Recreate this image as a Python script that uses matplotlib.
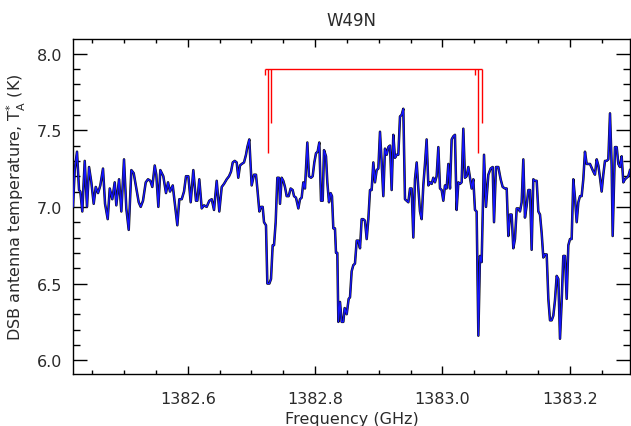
import matplotlib
matplotlib.use("Agg")
import matplotlib.pyplot as plt
from matplotlib.ticker import MultipleLocator

plt.rcParams['font.family'] = ['DejaVu Sans']
plt.rcParams['mathtext.default'] = 'regular'
TXT = '#2a2a2a'
plt.rcParams['text.color'] = TXT
plt.rcParams['axes.labelcolor'] = TXT
plt.rcParams['xtick.labelcolor'] = TXT
plt.rcParams['ytick.labelcolor'] = TXT

TITLE = "W49N"
XLABEL = "Frequency (GHz)"
YLABEL = r"DSB antenna temperature, T$_{A}^{*}$ (K)"

FREQ = [
    1382.4199, 1382.4226, 1382.4262, 1382.4294, 1382.4314, 1382.4345, 1382.4383, 1382.4419,
    1382.4451, 1382.4487, 1382.4524, 1382.4556, 1382.4592, 1382.4628, 1382.4670, 1382.4702,
    1382.4744, 1382.4776, 1382.4816, 1382.4854, 1382.4879, 1382.4922, 1382.4958, 1382.5000,
    1382.5036, 1382.5074, 1382.5115, 1382.5152, 1382.5193, 1382.5231, 1382.5262, 1382.5298,
    1382.5341, 1382.5377, 1382.5413, 1382.5444, 1382.5482, 1382.5507, 1382.5539, 1382.5570,
    1382.5617, 1382.5659, 1382.5691, 1382.5722, 1382.5765, 1382.5801, 1382.5837, 1382.5868,
    1382.5906, 1382.5942, 1382.5973, 1382.6010, 1382.6047, 1382.6088, 1382.6130, 1382.6151,
    1382.6182, 1382.6220, 1382.6256, 1382.6298, 1382.6339, 1382.6377, 1382.6413, 1382.6455,
    1382.6496, 1382.6534, 1382.6570, 1382.6612, 1382.6649, 1382.6680, 1382.6707, 1382.6738,
    1382.6769, 1382.6794, 1382.6821, 1382.6848, 1382.6884, 1382.6915, 1382.6936, 1382.6967,
    1382.7004, 1382.7041, 1382.7072, 1382.7093, 1382.7125, 1382.7151, 1382.7177, 1382.7198,
    1382.7229, 1382.7250, 1382.7282, 1382.7308, 1382.7334, 1382.7355, 1382.7381, 1382.7407,
    1382.7433, 1382.7449, 1382.7475, 1382.7501, 1382.7527, 1382.7554, 1382.7585, 1382.7616,
    1382.7648, 1382.7669, 1382.7700, 1382.7737, 1382.7763, 1382.7789, 1382.7815, 1382.7841,
    1382.7878, 1382.7904, 1382.7936, 1382.7962, 1382.7988, 1382.8014, 1382.8040, 1382.8066,
    1382.8093, 1382.8119, 1382.8140, 1382.8171, 1382.8192, 1382.8218, 1382.8244, 1382.8265,
    1382.8286, 1382.8312, 1382.8328, 1382.8349, 1382.8365, 1382.8391, 1382.8417, 1382.8443,
    1382.8464, 1382.8496, 1382.8527, 1382.8548, 1382.8574, 1382.8600, 1382.8626, 1382.8653,
    1382.8679, 1382.8705, 1382.8731, 1382.8757, 1382.8783, 1382.8810, 1382.8836, 1382.8862,
    1382.8888, 1382.8914, 1382.8940, 1382.8967, 1382.8993, 1382.9019, 1382.9045, 1382.9071,
    1382.9097, 1382.9124, 1382.9150, 1382.9176, 1382.9202, 1382.9228, 1382.9254, 1382.9281,
    1382.9307, 1382.9333, 1382.9359, 1382.9385, 1382.9411, 1382.9438, 1382.9464, 1382.9490,
    1382.9516, 1382.9542, 1382.9568, 1382.9595, 1382.9621, 1382.9647, 1382.9673, 1382.9699,
    1382.9725, 1382.9751, 1382.9778, 1382.9804, 1382.9830, 1382.9856, 1382.9882, 1382.9908,
    1382.9935, 1382.9961, 1382.9987, 1383.0013, 1383.0039, 1383.0065, 1383.0092, 1383.0118,
    1383.0144, 1383.0170, 1383.0196, 1383.0222, 1383.0249, 1383.0275, 1383.0301, 1383.0327,
    1383.0353, 1383.0379, 1383.0406, 1383.0432, 1383.0458, 1383.0484, 1383.0510, 1383.0536,
    1383.0563, 1383.0589, 1383.0615, 1383.0652, 1383.0683, 1383.0720, 1383.0756, 1383.0788,
    1383.0809, 1383.0840, 1383.0877, 1383.0913, 1383.0945, 1383.0981, 1383.1008, 1383.1034,
    1383.1060, 1383.1086, 1383.1112, 1383.1138, 1383.1165, 1383.1191, 1383.1217, 1383.1243,
    1383.1269, 1383.1295, 1383.1322, 1383.1348, 1383.1374, 1383.1400, 1383.1426, 1383.1452,
    1383.1479, 1383.1505, 1383.1531, 1383.1557, 1383.1583, 1383.1609, 1383.1636, 1383.1662,
    1383.1688, 1383.1714, 1383.1740, 1383.1766, 1383.1793, 1383.1819, 1383.1845, 1383.1871,
    1383.1897, 1383.1923, 1383.1950, 1383.1976, 1383.2002, 1383.2028, 1383.2054, 1383.2080,
    1383.2107, 1383.2133, 1383.2159, 1383.2185, 1383.2211, 1383.2237, 1383.2264, 1383.2290,
    1383.2316, 1383.2368, 1383.2394, 1383.2421, 1383.2447, 1383.2473, 1383.2499, 1383.2525,
    1383.2551, 1383.2578, 1383.2604, 1383.2630, 1383.2656, 1383.2672, 1383.2708, 1383.2735,
    1383.2761, 1383.2787, 1383.2813, 1383.2839, 1383.2865, 1383.2891, 1383.2918, 1383.2944,
]

TEMP = [
    7.00, 7.24, 7.36, 7.11, 7.10, 6.97, 7.30, 7.00,
    7.26, 7.16, 7.02, 7.13, 7.09, 7.14, 7.25, 7.02,
    6.92, 7.12, 7.05, 7.16, 7.01, 7.18, 6.97, 7.31,
    6.99, 6.85, 7.24, 7.22, 7.12, 7.03, 7.00, 7.04,
    7.16, 7.18, 7.17, 7.13, 7.27, 7.21, 7.00, 7.24,
    7.20, 7.09, 7.16, 7.10, 7.14, 7.01, 6.88, 7.05,
    7.05, 7.10, 7.20, 7.20, 7.03, 7.24, 7.04, 7.04,
    7.18, 6.99, 7.01, 7.00, 7.04, 7.05, 6.98, 7.17,
    6.97, 7.13, 7.15, 7.18, 7.20, 7.23, 7.29, 7.30,
    7.29, 7.19, 7.27, 7.28, 7.29, 7.34, 7.39, 7.44,
    7.14, 7.21, 7.21, 7.12, 6.97, 7.00, 7.00, 6.90,
    6.88, 6.50, 6.50, 6.53, 6.75, 6.75, 6.90, 7.19,
    7.19, 7.02, 7.19, 7.17, 7.13, 7.07, 7.07, 7.12,
    7.11, 7.07, 7.06, 6.99, 7.05, 7.06, 7.16, 7.12,
    7.42, 7.20, 7.19, 7.20, 7.29, 7.35, 7.36, 7.42,
    7.04, 7.04, 7.37, 7.33, 7.16, 7.03, 7.09, 7.07,
    6.86, 6.86, 6.70, 6.70, 6.25, 6.38, 6.25, 6.25,
    6.34, 6.30, 6.40, 6.41, 6.58, 6.62, 6.63, 6.78,
    6.78, 6.73, 6.92, 6.92, 6.91, 6.79, 6.92, 7.11,
    7.11, 7.29, 7.16, 7.24, 7.25, 7.49, 7.29, 7.07,
    7.38, 7.34, 7.39, 7.40, 7.11, 7.47, 7.32, 7.34,
    7.34, 7.59, 7.60, 7.64, 7.05, 7.04, 7.03, 7.12,
    7.12, 6.80, 7.18, 7.29, 7.12, 6.97, 6.92, 7.14,
    7.28, 7.44, 7.14, 7.16, 7.15, 7.19, 7.16, 7.20,
    7.39, 7.12, 7.11, 7.04, 7.14, 7.12, 7.28, 7.12,
    7.44, 7.46, 7.47, 6.98, 7.16, 7.15, 7.16, 7.51,
    7.19, 7.20, 7.26, 7.19, 7.12, 7.18, 6.98, 6.97,
    6.16, 6.68, 6.64, 7.34, 7.00, 7.21, 7.25, 7.26,
    6.90, 7.26, 7.26, 7.18, 7.13, 7.12, 7.12, 6.81,
    6.95, 6.95, 6.73, 6.79, 6.99, 6.99, 6.97, 7.03,
    7.31, 6.93, 7.01, 7.11, 7.11, 6.72, 7.18, 7.17,
    7.17, 6.97, 6.95, 6.83, 6.67, 6.69, 6.69, 6.40,
    6.26, 6.26, 6.29, 6.39, 6.55, 6.53, 6.14, 6.38,
    6.68, 6.68, 6.40, 6.75, 6.79, 6.79, 7.18, 7.06,
    6.90, 7.03, 7.07, 7.07, 7.18, 7.36, 7.28, 7.28,
    7.28, 7.23, 7.21, 7.31, 7.27, 7.19, 7.10, 7.21,
    7.30, 7.30, 7.31, 7.61, 7.27, 6.81, 7.39, 7.39,
    7.28, 7.26, 7.33, 7.16, 7.18, 7.19, 7.20, 7.24,
]

# hyperfine-component markers (two groups)
MARK_GROUP1 = [1382.7209, 1382.7256, 1382.7313]
MARK_GROUP2 = [1383.0515, 1383.0562, 1383.0625]
MARK_BOTTOMS = [7.86, 7.35, 7.55]
MARK_TOP = 7.90

XLIM = (1382.4199, 1383.2944)
YLIM = (5.91, 8.095)
XTICKS = [1382.6, 1382.8, 1383.0, 1383.2]
YTICKS = [6.0, 6.5, 7.0, 7.5, 8.0]

fig = plt.figure(figsize=(6.31, 4.27), dpi=100)
ax = fig.add_axes([73/631, 52/427, 557/631, 335/427])

ax.plot(FREQ, TEMP, color='#111111', lw=1.8, zorder=2)
ax.plot(FREQ, TEMP, color='#1414ff', lw=1.0, zorder=3)

red = '#ff0000'
ax.hlines(MARK_TOP, MARK_GROUP1[0], MARK_GROUP2[-1], color=red, lw=1.0, zorder=4)
for grp in (MARK_GROUP1, MARK_GROUP2):
    for f, b in zip(grp, MARK_BOTTOMS):
        ax.vlines(f, b, MARK_TOP, color=red, lw=1.0, zorder=4)

ax.set_xlim(*XLIM)
ax.set_ylim(*YLIM)
ax.set_xticks(XTICKS)
ax.set_xticklabels([f"{t:.1f}" for t in XTICKS])
ax.set_yticks(YTICKS)
ax.set_yticklabels([f"{t:.1f}" for t in YTICKS])
ax.xaxis.set_minor_locator(MultipleLocator(0.05))
ax.yaxis.set_minor_locator(MultipleLocator(0.1))

ax.tick_params(axis='x', which='major', direction='in', length=6, width=1,
               top=True, bottom=True, labelsize=11.5, pad=12)
ax.tick_params(axis='x', which='minor', direction='in', length=3, width=1,
               top=True, bottom=True)
ax.tick_params(axis='y', which='major', direction='in', length=10, width=1,
               left=True, right=True, labelsize=11.5, pad=8)
ax.tick_params(axis='y', which='minor', direction='in', length=5, width=1,
               left=True, right=True)
for sp in ax.spines.values():
    sp.set_linewidth(1.0)

ax.set_title(TITLE, fontsize=12, pad=10)
ax.set_xlabel(XLABEL, fontsize=11.5, labelpad=4)
ax.set_ylabel(YLABEL, fontsize=11.5, labelpad=6)

fig.savefig("out.png", dpi=100)
